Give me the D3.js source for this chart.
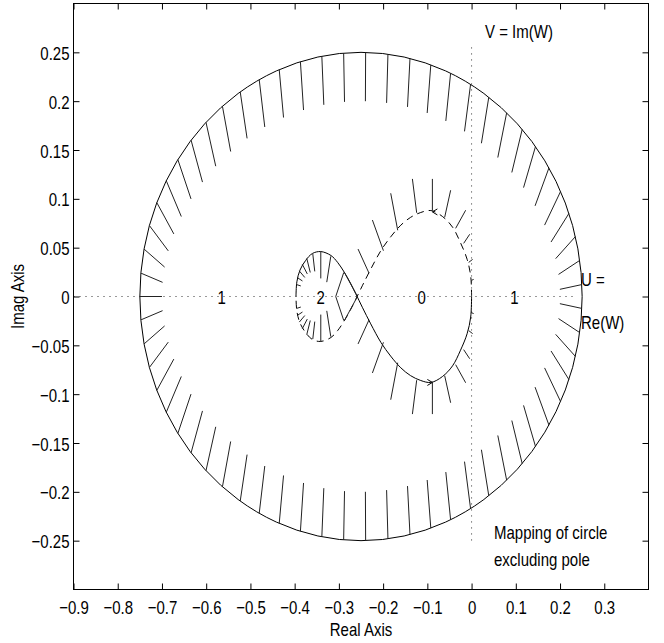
<!DOCTYPE html>
<html>
<head>
<meta charset="utf-8">
<script src="https://cdn.jsdelivr.net/npm/d3@7"></script>
<style>
  body { margin: 0; background: #fff; }
  svg { display: block; font-family: "Liberation Sans", Arial, Helvetica, sans-serif; }
</style>
</head>
<body>
<svg width="664" height="643"></svg>
<script>
// axis ticks
const xTicks = [-0.9, -0.8, -0.7, -0.6, -0.5, -0.4, -0.3, -0.2, -0.1, 0, 0.1, 0.2, 0.3];
const yTicks = [-0.25, -0.2, -0.15, -0.1, -0.05, 0, 0.05, 0.1, 0.15, 0.2, 0.25];
const xDomain = [-0.9, 0.4];
const yDomain = [-0.3, 0.3];

// big circle (mapping of the large arc)
const circleCenter = [-0.25, 0];
const circleRadius = [0.5, 0.25];
const circleHatchLen = 0.05;
const circleHatchDeg = [88.8, 94.5, 100.2, 105.9, 111.7, 117.4, 123.1, 128.8, 134.5, 140.2,
  145.9, 151.7, 157.4, 163.1, 168.8, 174.5, 180.0, 185.5, 191.2, 196.9, 202.6, 208.3,
  214.1, 219.8, 225.5, 231.2, 236.9, 242.6, 248.3, 254.1, 259.8, 265.5, 271.2,
  277.0, 282.8, 288.4, 293.9, 299.7, 305.3, 311.2, 316.8, 322.1, 328.2, 334.5, 340.1,
  345.8, 351.5, 357.2, 2.8, 8.5, 14.2, 19.9, 25.5, 31.8, 37.9, 43.2, 48.8, 54.7,
  60.3, 66.1, 71.6, 77.2, 83.0];

// nyquist curve, positive frequencies (solid); negative = mirror (dashed)
const nyqRe = [-0.397, -0.395, -0.388, -0.375, -0.360, -0.341, -0.318, -0.303, -0.288,
  -0.273, -0.262, -0.247, -0.228, -0.205, -0.183, -0.160, -0.138, -0.115, -0.092,
  -0.066, -0.043, -0.025, -0.010, -0.002, 0.000];
const nyqIm = [0.000, 0.015, 0.027, 0.037, 0.044, 0.046, 0.042, 0.035, 0.025,
  0.013, 0.003, -0.011, -0.028, -0.047, -0.061, -0.073, -0.081, -0.086, -0.088,
  -0.082, -0.071, -0.055, -0.038, -0.021, 0.000];

// hatches on the positive branch (base on curve -> tip)
const hatchBaseRe = [-0.3963, -0.3945, -0.3895, -0.3827, -0.3726, -0.359, -0.3409, -0.3183, -0.289,
  -0.258, -0.2319, -0.1993, -0.167, -0.1241, -0.0886, -0.0608, -0.036, -0.0179, -0.0066, -0.001];
const hatchBaseIm = [0.0123, 0.0195, 0.0262, 0.0329, 0.039, 0.0436, 0.0462, 0.0411, 0.0246,
  0.0, -0.0239, -0.0469, -0.0678, -0.0857, -0.088, -0.0811, -0.0698, -0.0544, -0.0349, -0.0164];
const hatchTipRe = [-0.3861, -0.3823, -0.3771, -0.3714, -0.3647, -0.3545, -0.3409, -0.3274, -0.3071,
  -0.288, -0.2567, -0.2242, -0.1828, -0.1338, -0.0886, -0.0473, -0.0134, -0.0043, 0.0024, 0.0047];
const hatchTipIm = [0.0108, 0.0159, 0.0195, 0.0231, 0.0246, 0.0257, 0.0185, 0.0147, 0.0,
  -0.025, -0.0486, -0.0783, -0.1057, -0.1204, -0.1204, -0.1088, -0.0883, -0.0637, -0.038, -0.0175];

// direction arrows
const arrowRe = [-0.0886, -0.0886];
const arrowIm = [0.0866, -0.088];
const arrowDir = [-1, 1];

// encirclement counts along the real axis
const regionText = ["1", "2", "0", "1"];
const regionRe = [-0.565, -0.341, -0.113, 0.097];

const svg = d3.select("svg");
const x = d3.scaleLinear().domain(xDomain).range([73.5, 648.5]);
const y = d3.scaleLinear().domain(yDomain).range([589.5, 3.5]);
const fmt = d => (d < 0 ? "\u2212" : "") + d3.format("")(Math.abs(d));
const stretch = "scale(1,1.25)";

svg.append("defs").append("clipPath").attr("id", "plot")
  .append("rect").attr("x", 73.5).attr("y", 3.5).attr("width", 575).attr("height", 586);

const plot = svg.append("g").attr("clip-path", "url(#plot)");

// dotted axes lines
plot.append("line")
  .attr("x1", x(-0.9)).attr("x2", x(0.235)).attr("y1", y(0)).attr("y2", y(0))
  .attr("stroke", "#333").attr("stroke-dasharray", "1,5");
plot.append("line")
  .attr("x1", x(0)).attr("x2", x(0)).attr("y1", y(0.255)).attr("y2", y(-0.25))
  .attr("stroke", "#333").attr("stroke-dasharray", "1,5");

// big circle
plot.append("ellipse")
  .attr("cx", x(circleCenter[0])).attr("cy", y(circleCenter[1]))
  .attr("rx", x(circleCenter[0] + circleRadius[0]) - x(circleCenter[0]))
  .attr("ry", y(circleCenter[1]) - y(circleCenter[1] + circleRadius[1]))
  .attr("fill", "none").attr("stroke", "#000").attr("stroke-width", 1);

const circleHatches = circleHatchDeg.map(deg => {
  const a = deg * Math.PI / 180;
  const c = Math.cos(a), s = Math.sin(a);
  const bx = circleCenter[0] + circleRadius[0] * c;
  const by = circleCenter[1] + circleRadius[1] * s;
  let nx = c / circleRadius[0], ny = s / circleRadius[1];
  const n = Math.hypot(nx, ny);
  nx /= n; ny /= n;
  return { x1: bx, y1: by, x2: bx - circleHatchLen * nx, y2: by - circleHatchLen * ny };
});

plot.append("g").selectAll("line")
  .data(circleHatches)
  .enter().append("line")
  .attr("x1", d => x(d.x1)).attr("y1", d => y(d.y1))
  .attr("x2", d => x(d.x2)).attr("y2", d => y(d.y2))
  .attr("stroke", "#222").attr("stroke-width", 1);

// nyquist branches
const pos = nyqRe.map((r, i) => [r, nyqIm[i]]);
const neg = pos.map(p => [p[0], -p[1]]).reverse();
const line = d3.line().x(d => x(d[0])).y(d => y(d[1])).curve(d3.curveCatmullRom.alpha(0.5));

plot.append("path").datum(pos)
  .attr("d", line).attr("fill", "none").attr("stroke", "#000").attr("stroke-width", 1);
plot.append("path").datum(neg)
  .attr("d", line).attr("fill", "none").attr("stroke", "#000").attr("stroke-width", 1)
  .attr("stroke-dasharray", "7,5");

// hatches on the curve, mirrored for negative frequencies
const curveHatches = [];
hatchBaseRe.forEach((r, i) => {
  curveHatches.push({ x1: r, y1: hatchBaseIm[i], x2: hatchTipRe[i], y2: hatchTipIm[i] });
  curveHatches.push({ x1: r, y1: -hatchBaseIm[i], x2: hatchTipRe[i], y2: -hatchTipIm[i] });
});

plot.append("g").selectAll("line")
  .data(curveHatches)
  .enter().append("line")
  .attr("x1", d => x(d.x1)).attr("y1", d => y(d.y1))
  .attr("x2", d => x(d.x2)).attr("y2", d => y(d.y2))
  .attr("stroke", "#222").attr("stroke-width", 1);

// arrow heads
const arrows = arrowRe.map((r, i) => ({ x: r, y: arrowIm[i], dir: arrowDir[i] }));
plot.append("g").selectAll("path")
  .data(arrows)
  .enter().append("path")
  .attr("d", d => {
    const px = x(d.x), py = y(d.y);
    return `M${px - d.dir * 5},${py - 3}L${px},${py}L${px - d.dir * 5},${py + 3}`;
  })
  .attr("fill", "none").attr("stroke", "#000").attr("stroke-width", 1);

// region counts
plot.append("g").selectAll("text")
  .data(regionText)
  .enter().append("text")
  .attr("transform", (d, i) => `translate(${x(regionRe[i])},${y(0) + 7}) ${stretch}`)
  .attr("text-anchor", "middle")
  .attr("font-size", 15)
  .text(d => d);

// axes, ticks point inward
function styleAxis(g) {
  g.attr("font-family", null).attr("font-size", 15);
  g.select(".domain").remove();
  g.selectAll(".tick line").attr("stroke", "#000");
}

svg.append("g")
  .attr("transform", `translate(0,${y(-0.3)})`)
  .call(d3.axisBottom(x).tickValues(xTicks).tickSize(-6).tickFormat(fmt))
  .call(styleAxis)
  .call(g => g.selectAll(".tick text")
    .attr("y", null).attr("dy", null).attr("fill", "#000")
    .attr("transform", `translate(0,24.5) ${stretch}`));

svg.append("g")
  .attr("transform", `translate(${x(-0.9)},0)`)
  .call(d3.axisLeft(y).tickValues(yTicks).tickSize(-6).tickFormat(fmt))
  .call(styleAxis)
  .call(g => g.selectAll(".tick text")
    .attr("x", null).attr("dy", null).attr("fill", "#000")
    .attr("transform", `translate(-4,7) ${stretch}`));

svg.append("g")
  .attr("transform", `translate(0,${y(0.3)})`)
  .call(d3.axisTop(x).tickValues(xTicks).tickSize(-6).tickFormat(""))
  .call(styleAxis);

svg.append("g")
  .attr("transform", `translate(${x(0.4)},0)`)
  .call(d3.axisRight(y).tickValues(yTicks).tickSize(-6).tickFormat(""))
  .call(styleAxis);

// box
svg.append("rect")
  .attr("x", x(-0.9)).attr("y", y(0.3))
  .attr("width", x(0.4) - x(-0.9)).attr("height", y(-0.3) - y(0.3))
  .attr("fill", "none").attr("stroke", "#000").attr("stroke-width", 1);

// titles and notes
function note(txt, px, py, anchor, rot) {
  svg.append("text")
    .attr("transform", `translate(${px},${py})${rot ? " rotate(-90)" : ""} ${stretch}`)
    .attr("text-anchor", anchor || "start")
    .attr("font-size", 15)
    .text(txt);
}
note("Real Axis", (x(-0.9) + x(0.4)) / 2, 635.5, "middle");
note("Imag Axis", 24, y(0), "middle", true);
note("V = Im(W)", 485, 38);
note("U =", 581, 286);
note("Re(W)", 581, 329);
note("Mapping of circle", 494, 539);
note("excluding pole", 494, 566);
</script>
</body>
</html>
